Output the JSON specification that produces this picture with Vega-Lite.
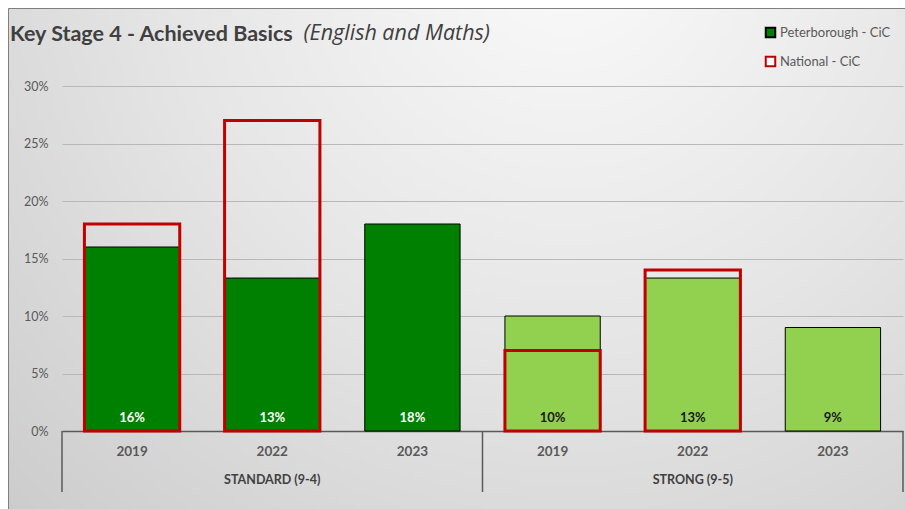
{
  "$schema": "https://vega.github.io/schema/vega-lite/v6.json",
  "width": 897,
  "height": 501,
  "autosize": {"type": "none"},
  "padding": {"left": 8, "top": 8, "right": 0, "bottom": 0},
  "background": "#ffffff",
  "view": {
    "fill": {
      "gradient": "radial",
      "x1": 0.62, "y1": 0.15, "r1": 0,
      "x2": 0.62, "y2": 0.15, "r2": 0.9,
      "stops": [
        {"offset": 0, "color": "#fafafa"},
        {"offset": 0.5, "color": "#e5e5e5"},
        {"offset": 1, "color": "#cbcbcb"}
      ]
    },
    "stroke": "#7f7f7f",
    "strokeWidth": 1
  },
  "title": {"text": "Key Stage 4 - Achieved Basics", "anchor": "start", "frame": "group", "fontSize": 21.5, "fontWeight": "bold", "color": "#404040", "offset": -37, "dx": 2},
  "datasets": {
    "pb": [
      {"group": "STANDARD (9-4)", "cat": "STANDARD (9-4)|2019", "value": 16, "label": "16%", "series": "Peterborough - CiC"},
      {"group": "STANDARD (9-4)", "cat": "STANDARD (9-4)|2022", "value": 13.3, "label": "13%", "series": "Peterborough - CiC"},
      {"group": "STANDARD (9-4)", "cat": "STANDARD (9-4)|2023", "value": 18, "label": "18%", "series": "Peterborough - CiC"},
      {"group": "STRONG (9-5)", "cat": "STRONG (9-5)|2019", "value": 10, "label": "10%", "series": "Peterborough - CiC"},
      {"group": "STRONG (9-5)", "cat": "STRONG (9-5)|2022", "value": 13.3, "label": "13%", "series": "Peterborough - CiC"},
      {"group": "STRONG (9-5)", "cat": "STRONG (9-5)|2023", "value": 9, "label": "9%", "series": "Peterborough - CiC"}
    ],
    "nat": [
      {"group": "STANDARD (9-4)", "cat": "STANDARD (9-4)|2019", "value": 18, "series": "National - CiC"},
      {"group": "STANDARD (9-4)", "cat": "STANDARD (9-4)|2022", "value": 27, "series": "National - CiC"},
      {"group": "STRONG (9-5)", "cat": "STRONG (9-5)|2019", "value": 7, "series": "National - CiC"},
      {"group": "STRONG (9-5)", "cat": "STRONG (9-5)|2022", "value": 14, "series": "National - CiC"}
    ],
    "groups": [
      {"cat": "STANDARD (9-4)|2022", "group": "STANDARD (9-4)"},
      {"cat": "STRONG (9-5)|2022", "group": "STRONG (9-5)"}
    ],
    "sepStart": [
      {"cat": "STANDARD (9-4)|2019"},
      {"cat": "STRONG (9-5)|2019"}
    ],
    "sepEnd": [
      {"cat": "STRONG (9-5)|2023"}
    ]
  },
  "layer": [
    {
      "data": {"name": "pb"},
      "mark": {"type": "bar", "strokeWidth": 1},
      "encoding": {
        "x": {
          "field": "cat", "type": "nominal", "sort": null,
          "scale": {
            "domain": ["STANDARD (9-4)|2019", "STANDARD (9-4)|2022", "STANDARD (9-4)|2023", "STRONG (9-5)|2019", "STRONG (9-5)|2022", "STRONG (9-5)|2023"],
            "range": [54, 895], "paddingInner": 0.32, "paddingOuter": 0.16
          },
          "axis": {
            "orient": "bottom", "offset": -78,
            "labelExpr": "split(datum.label, '|')[1]",
            "ticks": false, "grid": false, "labelAngle": 0, "title": null,
            "domainColor": "#595959", "domainWidth": 1.5,
            "labelFontSize": 13.5, "labelFontWeight": "bold", "labelColor": "#595959", "labelPadding": 13
          }
        },
        "y": {
          "field": "value", "type": "quantitative",
          "scale": {"domain": [0, 30], "range": [423, 78], "nice": false},
          "axis": {
            "orient": "left", "offset": -54,
            "values": [0, 5, 10, 15, 20, 25, 30],
            "labelExpr": "datum.value + '%'",
            "grid": true, "gridColor": "#b8b8b8", "gridWidth": 1,
            "domain": false, "ticks": false,
            "labelPadding": 14, "labelFontSize": 12.5, "labelColor": "#595959",
            "title": "(English and Maths)",
            "titleFont": "Open Sans",
            "titleAngle": 0, "titleX": 241, "titleY": 31,
            "titleAlign": "left", "titleBaseline": "alphabetic",
            "titleFontSize": 21.5, "titleFontStyle": "italic", "titleFontWeight": "normal", "titleColor": "#404040"
          }
        },
        "fill": {"condition": {"test": "datum.group === 'STANDARD (9-4)'", "value": "#008000"}, "value": "#92d050"},
        "stroke": {
          "field": "series", "type": "nominal",
          "scale": {"domain": ["Peterborough - CiC", "National - CiC"], "range": ["#000000", "#c00000"]},
          "legend": {
            "orient": "none", "legendX": 756, "legendY": 18, "title": null, "padding": 0,
            "symbolType": "square", "symbolSize": 90, "symbolStrokeWidth": 2,
            "rowPadding": 10, "labelFontSize": 13, "labelColor": "#595959", "labelOffset": 3
          }
        }
      }
    },
    {
      "data": {"name": "nat"},
      "mark": {"type": "bar", "strokeWidth": 3, "fillOpacity": 0},
      "encoding": {
        "x": {"field": "cat", "type": "nominal", "sort": null},
        "y": {"field": "value", "type": "quantitative"},
        "stroke": {"field": "series", "type": "nominal"},
        "fill": {
          "field": "series", "type": "nominal",
          "scale": {"domain": ["Peterborough - CiC", "National - CiC"], "range": ["#008000", "#ffffff"]},
          "legend": {
            "orient": "none", "legendX": 756, "legendY": 18, "title": null, "padding": 0,
            "symbolType": "square", "symbolSize": 90, "symbolStrokeWidth": 2,
            "rowPadding": 10, "labelFontSize": 13, "labelColor": "#595959", "labelOffset": 3
          }
        }
      }
    },
    {
      "data": {"name": "pb"},
      "mark": {"type": "text", "fontWeight": "bold", "fontSize": 13, "baseline": "alphabetic", "dy": -9},
      "encoding": {
        "x": {"field": "cat", "type": "nominal", "sort": null},
        "y": {"datum": 0},
        "text": {"field": "label"},
        "color": {"condition": {"test": "datum.group === 'STANDARD (9-4)'", "value": "#ffffff"}, "value": "#1a1a1a"}
      }
    },
    {
      "data": {"name": "groups"},
      "mark": {"type": "text", "fontWeight": "bold", "fontSize": 12.5, "baseline": "middle", "color": "#404040"},
      "encoding": {
        "x": {"field": "cat", "type": "nominal", "sort": null},
        "y": {"datum": -4.25},
        "text": {"field": "group"}
      }
    },
    {
      "data": {"name": "sepStart"},
      "mark": {"type": "rule", "color": "#595959", "strokeWidth": 1.5},
      "encoding": {
        "x": {"field": "cat", "type": "nominal", "sort": null, "bandPosition": -0.2353},
        "y": {"datum": 0},
        "y2": {"datum": -5.3}
      }
    },
    {
      "data": {"name": "sepEnd"},
      "mark": {"type": "rule", "color": "#595959", "strokeWidth": 1.5},
      "encoding": {
        "x": {"field": "cat", "type": "nominal", "sort": null, "bandPosition": 1.2353},
        "y": {"datum": 0},
        "y2": {"datum": -5.3}
      }
    }
  ],
  "config": {
    "font": "Lato"
  }
}
